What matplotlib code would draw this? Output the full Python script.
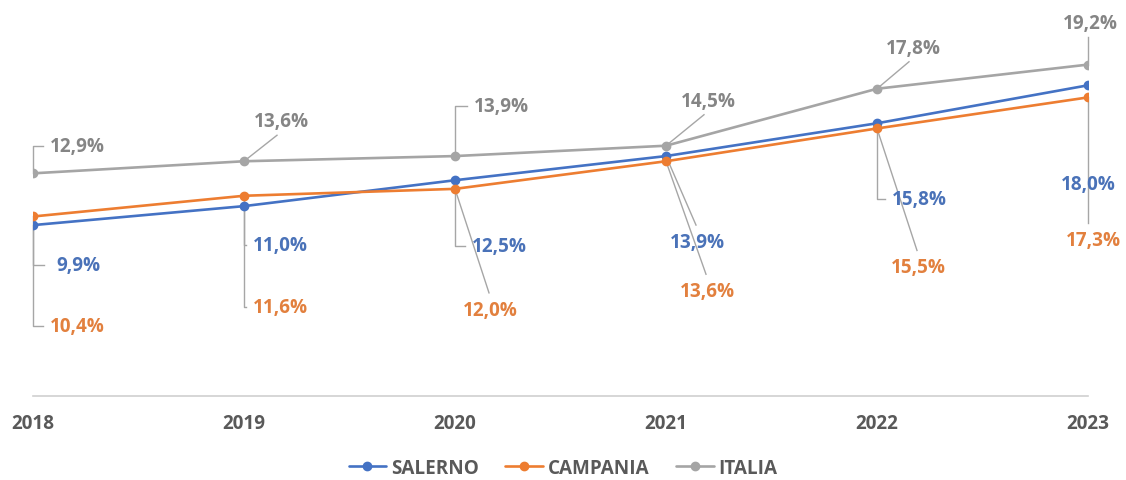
import matplotlib
matplotlib.use('Agg')
import matplotlib.pyplot as plt
from matplotlib.lines import Line2D

# ---------------- data ----------------
years = ['2018', '2019', '2020', '2021', '2022', '2023']
salerno = [9.9, 11.0, 12.5, 13.9, 15.8, 18.0]
campania = [10.4, 11.6, 12.0, 13.6, 15.5, 17.3]
italia = [12.9, 13.6, 13.9, 14.5, 17.8, 19.2]
series_names = ['SALERNO', 'CAMPANIA', 'ITALIA']

# ---------------- style ----------------
line_colors = ['#4472C4', '#ED7D31', '#A5A5A5']
text_colors = ['#4A72B8', '#E2803E', '#858585']
leader_color = '#A6A6A6'
axis_text = '#595959'

# label offsets in pixels from the point (dx right, dy down), label centre
label_off = [
    [(45, 40), (36, 39), (44, 66), (31, 86), (42, 76), (0, 99)],       # SALERNO
    [(44, 110), (36, 111), (35, 121), (41, 130), (41, 139), (5, 143)],  # CAMPANIA
    [(44, -27), (37, -40), (46, -50), (42, -45), (36, -41), (2, -42)],  # ITALIA
]
leader_kind = [
    ['angle', 'angle', 'angle', 'down', 'angle', 'none'],
    ['angle', 'angle', 'down', 'down', 'down', 'vdown'],
    ['angle', 'up', 'angle', 'up', 'up', 'vup'],
]

plt.rcParams['font.family'] = ['Open Sans', 'DejaVu Sans']
plt.rcParams['font.weight'] = 'bold'
FS = 13.6

W, H = 1126, 481
fig = plt.figure(figsize=(W / 100, H / 100), dpi=100)
left_px, right_px, bottom_px = 33, 1088, 397
ax = fig.add_axes([left_px / W, (H - bottom_px) / H, (right_px - left_px) / W, bottom_px / H])
ax.set_xlim(0, len(years) - 1)
ax.set_ylim(0, 23)

data = [salerno, campania, italia]
x = list(range(len(years)))
for vals, name, c in zip(data, series_names, line_colors):
    ax.plot(x, vals, color=c, lw=1.9, marker='o', ms=6, label=name, zorder=3,
            solid_capstyle='round')

for sp in ['top', 'right', 'left']:
    ax.spines[sp].set_visible(False)
ax.spines['bottom'].set_color('#D0D0D0')
ax.spines['bottom'].set_linewidth(1.2)
ax.set_yticks([])
ax.set_xticks(x)
ax.set_xticklabels(years, fontsize=FS, fontweight='bold', color=axis_text)
ax.tick_params(axis='x', length=0, pad=12)

fig.canvas.draw()
inv = ax.transData.inverted()
half_w = 29
for s, vals in enumerate(data):
    for i, v in enumerate(vals):
        dx, dy = label_off[s][i]
        txt = f"{v:.1f}%".replace('.', ',')
        ax.annotate(txt, xy=(i, v), xytext=(dx, -dy), textcoords='offset pixels',
                    ha='center', va='center', fontsize=FS, fontweight='bold',
                    color=text_colors[s], annotation_clip=False, zorder=5)
        kind = leader_kind[s][i]
        if kind == 'none':
            continue
        if kind == 'angle':
            pts = [(0, 0), (0, dy), (dx - half_w - 5, dy)]
        elif kind == 'up':
            pts = [(0, 0), (dx - 4, dy + 14)]
        elif kind == 'down':
            pts = [(0, 0), (dx - 1, dy - 17)]
        elif kind == 'vup':
            pts = [(0, 0), (0, dy + 14)]
        else:  # vdown
            pts = [(0, 0), (0, dy - 17)]
        px, py = ax.transData.transform((i, v))
        disp = [(px + a, py - b) for a, b in pts]
        dat = inv.transform(disp)
        ax.add_line(Line2D(dat[:, 0], dat[:, 1], color=leader_color, lw=1.0,
                           zorder=2, clip_on=False))

leg = fig.legend(loc='center', bbox_to_anchor=(0.5, 1 - 469 / H), ncol=3,
                 frameon=False, fontsize=FS, handlelength=2.0, columnspacing=1.4,
                 handletextpad=0.25)
for t in leg.get_texts():
    t.set_color(axis_text)
    t.set_fontweight('bold')

fig.savefig('out.png', dpi=100, facecolor='white')
